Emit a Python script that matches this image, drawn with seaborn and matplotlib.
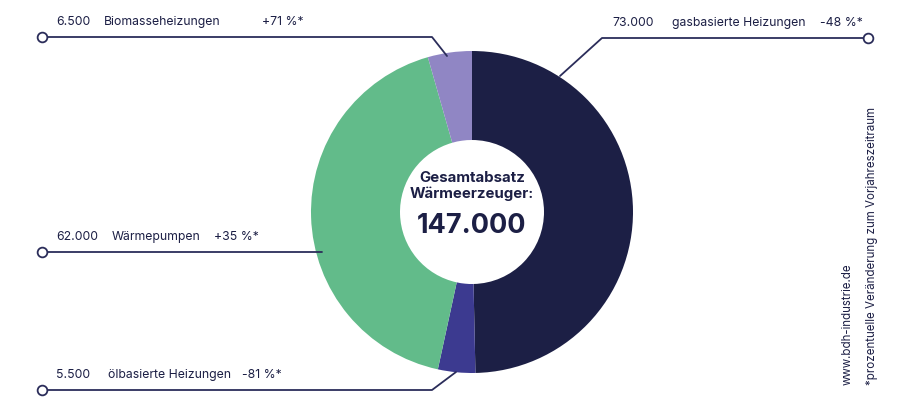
import matplotlib
matplotlib.use("Agg")
import matplotlib.pyplot as plt
import seaborn as sns

sns.set_theme(style="white")
plt.rcParams["font.family"] = "Inter"
categories = ["gasbasierte Heizungen", "ölbasierte Heizungen", "Wärmepumpen", "Biomasseheizungen"]
values = [73000, 5500, 62000, 6500]
value_labels = ["73.000", "5.500", "62.000", "6.500"]
changes = ["-48 %*", "-81 %*", "+35 %*", "+71 %*"]
colors = ["#1c1f45", "#3c3a90", "#62bb8a", "#9086c4"]

H = 417
fig = plt.figure(figsize=(9, 4.17), dpi=100)
ax = fig.add_axes([0, 0, 1, 1])

cx, cy, R = 472, H - 212, 161
ax.pie(values, colors=colors, startangle=90, counterclock=False, radius=R, center=(cx, cy),
       wedgeprops=dict(width=R - 72, linewidth=0), frame=True)
ax.set_xlim(0, 900); ax.set_ylim(0, H); ax.set_aspect("equal"); ax.axis("off")

line_c = "#2b2d5a"
tc = "#1c1f45"
fs = 8.8
leaders = {
    0: [(560, 76), (602, 38), (868, 38)],
    1: [(456, 372), (432, 390), (42, 390)],
    2: [(322, 252), (42, 252)],
    3: [(447, 56), (432, 37), (42, 37)],
}
text_x = {0: (612, 672, 820), 1: (56, 108, 242), 2: (56, 112, 214), 3: (56, 104, 262)}
for i, pts in leaders.items():
    xs = [p[0] for p in pts]; ys = [H - p[1] for p in pts]
    ax.plot(xs, ys, color=line_c, lw=1.3, solid_capstyle="round")
    ax.plot(xs[-1], ys[-1], "o", ms=7, mfc="white", mec=line_c, mew=1.3)
    ty = ys[-1] + 15
    x1, x2, x3 = text_x[i]
    ax.text(x1, ty, value_labels[i], fontsize=fs, color=tc, va="center")
    ax.text(x2, ty, categories[i], fontsize=fs, color=tc, va="center")
    ax.text(x3, ty, changes[i], fontsize=fs, color=tc, va="center")

ax.text(cx, H - 186, "Gesamtabsatz\nWärmeerzeuger:", ha="center", va="center", fontsize=10.8,
        fontweight="bold", color=tc, linespacing=1.2)
ax.text(cx, H - 226, "147.000", ha="center", va="center", fontsize=19.5, fontweight="bold", color=tc)

ax.text(848, H - 385, "www.bdh-industrie.de", rotation=90, fontsize=8.3, color=tc, ha="center", va="bottom")
ax.text(872, H - 385, "*prozentuelle Veränderung zum Vorjahreszeitraum", rotation=90, fontsize=8.3,
        color=tc, ha="center", va="bottom")

fig.savefig("out.png", dpi=100, facecolor="white")
